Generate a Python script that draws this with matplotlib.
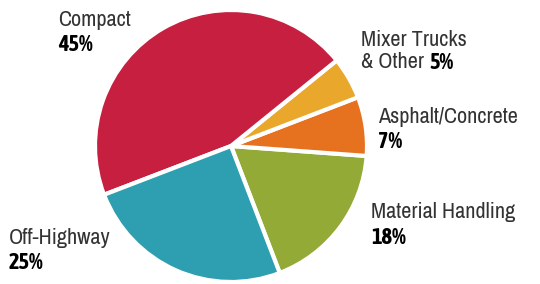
import matplotlib.pyplot as plt
from matplotlib import font_manager

# data
labels = ['Material Handling', 'Asphalt/Concrete', 'Mixer Trucks & Other', 'Compact', 'Off-Highway']
shares = [18, 7, 5, 45, 25]
colors = ['#93aa36', '#e6711f', '#e9a72c', '#c61f40', '#2e9fb1']

# a narrow face looks closest to the condensed type of the original
fonts = font_manager.fontManager.ttflist

def wnum(w):
    return font_manager.weight_dict.get(w, w) if isinstance(w, str) else w

narrow = sorted({f.name for f in fonts if 'Narrow' in f.name or 'Condensed' in f.name})
fam = narrow[0] if narrow else 'Roboto'
bold_fam = fam
if not any(f.name == fam and wnum(f.weight) >= 600 for f in fonts):
    bolds = [f.name for f in fonts if f.name in narrow and wnum(f.weight) >= 600]
    bold_fam = bolds[0] if bolds else 'Roboto'
plt.rcParams['font.family'] = [fam, 'DejaVu Sans']

fig = plt.figure(figsize=(5.4, 2.84), dpi=100)
ax = fig.add_axes([0, 0, 1, 1])

H = 284
cx, cy, r = 231, H - 146, 136

ax.pie(shares, colors=colors, startangle=-69, counterclock=True,
       center=(cx, cy), radius=r, frame=True,
       wedgeprops=dict(edgecolor='white', linewidth=3))
ax.set_xlim(0, 540)
ax.set_ylim(0, 284)
ax.set_aspect('equal')
ax.axis('off')

fs = 16

def txt(x, y, s, bold=False):
    if bold:
        return ax.text(x, H - y, s, fontsize=fs, color='black', va='top', ha='left',
                       family=[bold_fam, 'DejaVu Sans'], fontweight='bold')
    return ax.text(x, H - y, s, fontsize=fs, color='#333333', va='top', ha='left',
                   fontweight='light')

txt(58, 10, 'Compact')
txt(58, 34, '45%', True)
txt(361, 30, 'Mixer Trucks')
t = txt(361, 52, '& Other')
txt(378, 107, 'Asphalt/Concrete')
txt(378, 131, '7%', True)
txt(371, 202, 'Material Handling')
txt(371, 227, '18%', True)
txt(9, 228, 'Off-Highway')
txt(9, 252, '25%', True)

# put the bold share right after "& Other"
fig.canvas.draw()
bb = t.get_window_extent()
x_end = ax.transData.inverted().transform((bb.x1, bb.y1))[0]
txt(x_end + 5, 52, '5%', True)

fig.savefig('out.png', dpi=100)
